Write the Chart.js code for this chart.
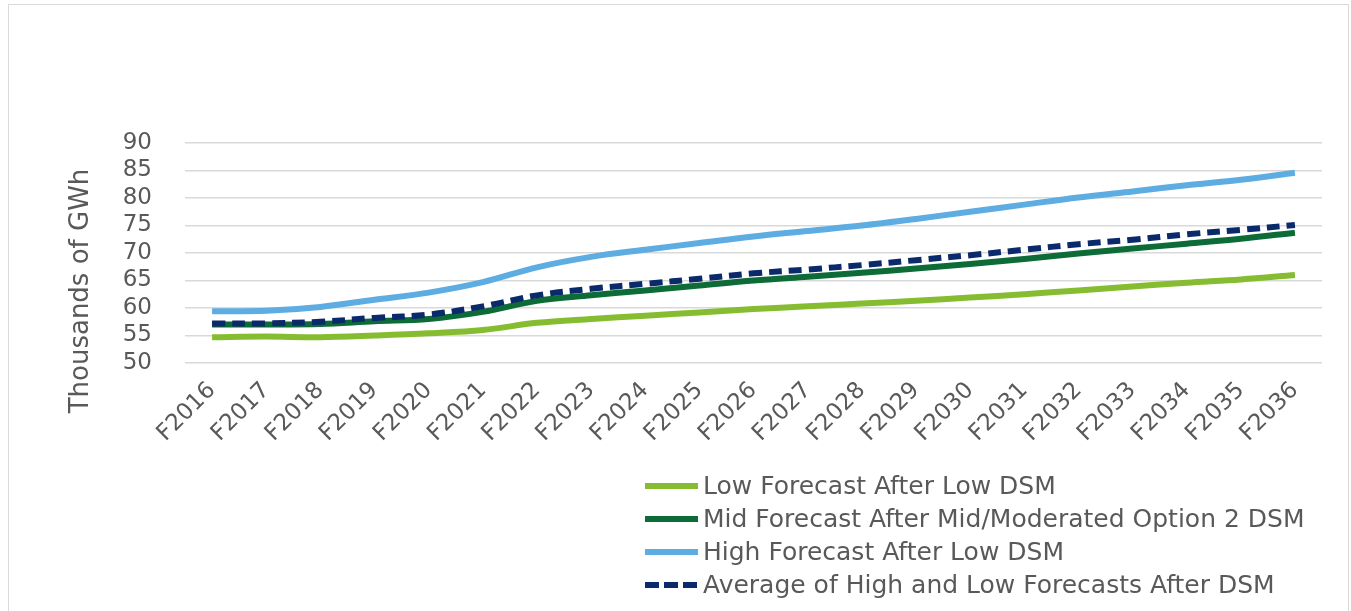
<!DOCTYPE html>
<html>
<head>
<meta charset="utf-8">
<title>Forecasts after DSM</title>
<script src="https://cdn.jsdelivr.net/npm/chart.js@4.4.1/dist/chart.umd.min.js"></script>
<style>
  html, body { margin: 0; padding: 0; background: #fff; }
  body { width: 1351px; height: 611px; position: relative; overflow: hidden; font-family: "DejaVu Sans", sans-serif; }
  #frame { position: absolute; left: 8px; top: 4px; width: 1339px; height: 700px; border: 1px solid #d9d9d9; }
  #wrap { position: absolute; left: 0; top: 0; width: 1351px; height: 611px; }
  #legend { position: absolute; left: 645px; top: 469px; color: #595959; font-size: 25px; }
  .row { display: flex; align-items: center; height: 33px; white-space: nowrap; }
  .swatch { width: 53px; height: 6px; margin-right: 5px; flex: none; }
</style>
</head>
<body>
<div id="frame"></div>
<div id="wrap"><canvas id="forecastChart"></canvas></div>
<div id="legend"></div>

<script>
// data (thousands of GWh)
const years = ['F2016', 'F2017', 'F2018', 'F2019', 'F2020', 'F2021', 'F2022', 'F2023', 'F2024', 'F2025',
  'F2026', 'F2027', 'F2028', 'F2029', 'F2030', 'F2031', 'F2032', 'F2033', 'F2034', 'F2035', 'F2036'];

const lowForecast = [54.7, 54.8, 54.7, 55.0, 55.4, 56.0, 57.3, 58.0, 58.6, 59.2,
  59.8, 60.3, 60.8, 61.3, 61.9, 62.5, 63.2, 63.9, 64.6, 65.2, 66.0];
const midForecast = [57.0, 57.0, 57.1, 57.6, 58.0, 59.3, 61.3, 62.3, 63.2, 64.1,
  65.0, 65.7, 66.4, 67.2, 68.0, 68.9, 69.9, 70.8, 71.7, 72.6, 73.7];
const highForecast = [59.4, 59.5, 60.2, 61.5, 62.8, 64.7, 67.4, 69.3, 70.6, 71.8,
  73.0, 74.0, 75.0, 76.2, 77.5, 78.8, 80.1, 81.2, 82.3, 83.3, 84.6];
const avgForecast = [57.2, 57.2, 57.5, 58.2, 58.8, 60.3, 62.3, 63.5, 64.4, 65.3,
  66.3, 67.0, 67.8, 68.7, 69.6, 70.6, 71.6, 72.4, 73.4, 74.2, 75.1];

const seriesNames = [
  'Low Forecast After Low DSM',
  'Mid Forecast After Mid/Moderated Option 2 DSM',
  'High Forecast After Low DSM',
  'Average of High and Low Forecasts After DSM'
];
const yTitle = 'Thousands of GWh';

const textColor = '#595959';
const gridColor = '#d9d9d9';

// y axis title sits a bit lower than the plot centre in the original
const yTitlePlugin = {
  id: 'yTitle',
  afterDraw(chart) {
    const ctx = chart.ctx;
    ctx.save();
    ctx.translate(81, 291);
    ctx.rotate(-Math.PI / 2);
    ctx.font = '26px "DejaVu Sans"';
    ctx.fillStyle = textColor;
    ctx.textAlign = 'center';
    ctx.textBaseline = 'middle';
    ctx.fillText(yTitle, 0, 0);
    ctx.restore();
  }
};

const ctx = document.getElementById('forecastChart').getContext('2d');
const chart = new Chart(ctx, {
  type: 'line',
  data: {
    labels: years,
    datasets: [
      { label: seriesNames[0], data: lowForecast, borderColor: '#86bd30', order: 1 },
      { label: seriesNames[1], data: midForecast, borderColor: '#0d6b37', order: 1 },
      { label: seriesNames[2], data: highForecast, borderColor: '#5dade2', order: 1 },
      { label: seriesNames[3], data: avgForecast, borderColor: '#0b2a6c', borderDash: [13, 7], order: 0 }
    ]
  },
  options: {
    responsive: true,
    maintainAspectRatio: false,
    animation: false,
    layout: {
      autoPadding: false,
      padding: { left: 0, top: 143, right: 29, bottom: 148 }
    },
    elements: {
      line: { borderWidth: 6, tension: 0.35, fill: false },
      point: { radius: 0, hoverRadius: 0 }
    },
    plugins: {
      legend: { display: false },
      tooltip: { enabled: false }
    },
    scales: {
      x: {
        offset: true,
        grid: { display: false },
        border: { display: false },
        ticks: {
          color: textColor,
          font: { family: 'DejaVu Sans', size: 23 },
          minRotation: 45,
          maxRotation: 45,
          autoSkip: false,
          padding: 6
        },
        afterFit: (scale) => { scale.height = 100; }
      },
      y: {
        min: 50,
        max: 90,
        grid: { color: gridColor, lineWidth: 1.5, drawTicks: false },
        border: { display: false },
        ticks: {
          stepSize: 5,
          autoSkip: false,
          color: textColor,
          font: { family: 'DejaVu Sans', size: 23 },
          padding: 33
        },
        afterFit: (scale) => { scale.width = 185; }
      }
    }
  },
  plugins: [yTitlePlugin]
});

// Legend as a stacked list, built from the chart's datasets
const legendBox = document.getElementById('legend');
chart.data.datasets.forEach((ds) => {
  const row = document.createElement('div');
  row.className = 'row';
  const swatch = document.createElement('span');
  swatch.className = 'swatch';
  if (ds.borderDash) {
    swatch.style.background = 'repeating-linear-gradient(to right, ' + ds.borderColor + ' 0 14px, transparent 14px 19px)';
  } else {
    swatch.style.background = ds.borderColor;
  }
  const text = document.createElement('span');
  text.textContent = ds.label;
  row.appendChild(swatch);
  row.appendChild(text);
  legendBox.appendChild(row);
});
</script>
</body>
</html>
